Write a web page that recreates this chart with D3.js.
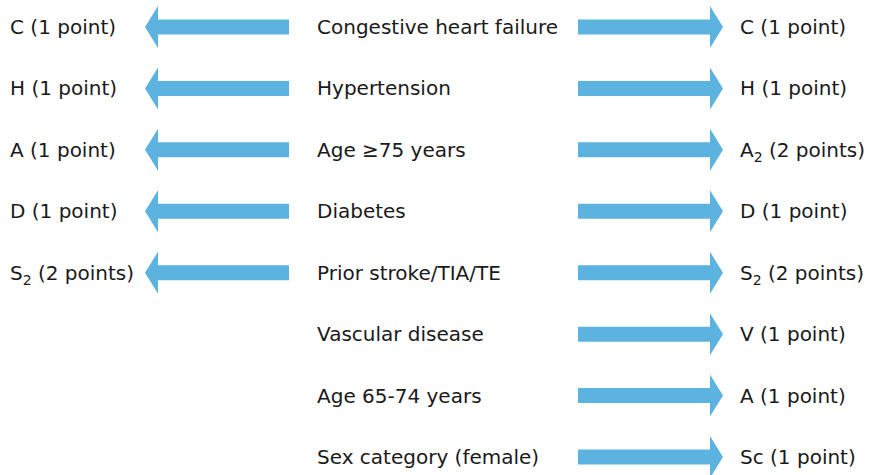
<!DOCTYPE html>
<html>
<head>
<meta charset="utf-8">
<script src="https://cdn.jsdelivr.net/npm/d3@7"></script>
<style>
  body { margin: 0; background: #fff; }
  text { font-family: "DejaVu Sans", sans-serif; font-size: 20px; fill: #1a1a1a; }
</style>
</head>
<body>
<div id="chart"></div>
<script>
var svgWidth = 869;
var svgHeight = 475;

// Risk factors (middle column)
var factors = [
    "Congestive heart failure",
    "Hypertension",
    "Age \u226575 years",
    "Diabetes",
    "Prior stroke/TIA/TE",
    "Vascular disease",
    "Age 65-74 years",
    "Sex category (female)"
];

// CHADS2 letters and points (left), null = not in score
var chadsLetter = ["C", "H", "A", "D", "S", null, null, null];
var chadsSub = ["", "", "", "", "2", null, null, null];
var chadsPoints = [1, 1, 1, 1, 2, null, null, null];

// CHA2DS2-VASc letters and points (right)
var vascLetter = ["C", "H", "A", "D", "S", "V", "A", "Sc"];
var vascSub = ["", "", "2", "", "2", "", "", ""];
var vascPoints = [1, 1, 2, 1, 2, 1, 1, 1];

var svg = d3.select("#chart").append("svg").attr("width", svgWidth).attr("height", svgHeight);

var y = d3.scalePoint().domain(d3.range(factors.length)).range([27, 457]);

// x positions of the columns
var x = d3.scaleOrdinal()
    .domain(["leftText", "leftTip", "leftEnd", "midText", "rightStart", "rightTip", "rightText"])
    .range([10, 145, 289, 317, 578, 723, 740]);

var arrowColor = "#5db3df";
var shaftHalf = 7.5, headHalf = 21, headLen = 13;

function arrowPath(x0, x1, cy) {
    // x0 = tail, x1 = tip
    var dir = x1 > x0 ? 1 : -1;
    var hb = x1 - dir * headLen;
    var p = d3.path();
    p.moveTo(x0, cy - shaftHalf);
    p.lineTo(hb, cy - shaftHalf);
    p.lineTo(hb, cy - headHalf);
    p.lineTo(x1, cy);
    p.lineTo(hb, cy + headHalf);
    p.lineTo(hb, cy + shaftHalf);
    p.lineTo(x0, cy + shaftHalf);
    p.closePath();
    return p.toString();
}

function pointsLabel(n) {
    return " (" + n + (n === 1 ? " point)" : " points)");
}

// letter, optional subscript, then points
function scoreLabel(sel, letters, subs, pts) {
    sel.each(function(d, i) {
        var t = d3.select(this);
        t.append("tspan").text(letters[i]);
        if (subs[i]) {
            t.append("tspan").attr("font-size", "14px").attr("dy", 5).text(subs[i]);
            t.append("tspan").attr("dy", -5).text(pointsLabel(pts[i]));
        } else {
            t.append("tspan").text(pointsLabel(pts[i]));
        }
    });
}

var rows = svg.selectAll("g.row").data(factors).enter().append("g").attr("class", "row");

// middle labels
rows.append("text")
    .attr("x", x("midText"))
    .attr("y", (d, i) => y(i))
    .attr("dy", "0.35em")
    .text(d => d);

// right arrows
rows.append("path")
    .attr("d", (d, i) => arrowPath(x("rightStart"), x("rightTip"), y(i)))
    .attr("fill", arrowColor);

// right labels
rows.append("text")
    .attr("x", x("rightText"))
    .attr("y", (d, i) => y(i))
    .attr("dy", "0.35em")
    .call(scoreLabel, vascLetter, vascSub, vascPoints);

// left side, only CHADS2 factors
var left = rows.filter((d, i) => chadsLetter[i] !== null);

left.append("path")
    .attr("d", (d, i) => arrowPath(x("leftEnd"), x("leftTip"), y(i)))
    .attr("fill", arrowColor);

left.append("text")
    .attr("x", x("leftText"))
    .attr("y", (d, i) => y(i))
    .attr("dy", "0.35em")
    .call(scoreLabel, chadsLetter, chadsSub, chadsPoints);
</script>
</body>
</html>
